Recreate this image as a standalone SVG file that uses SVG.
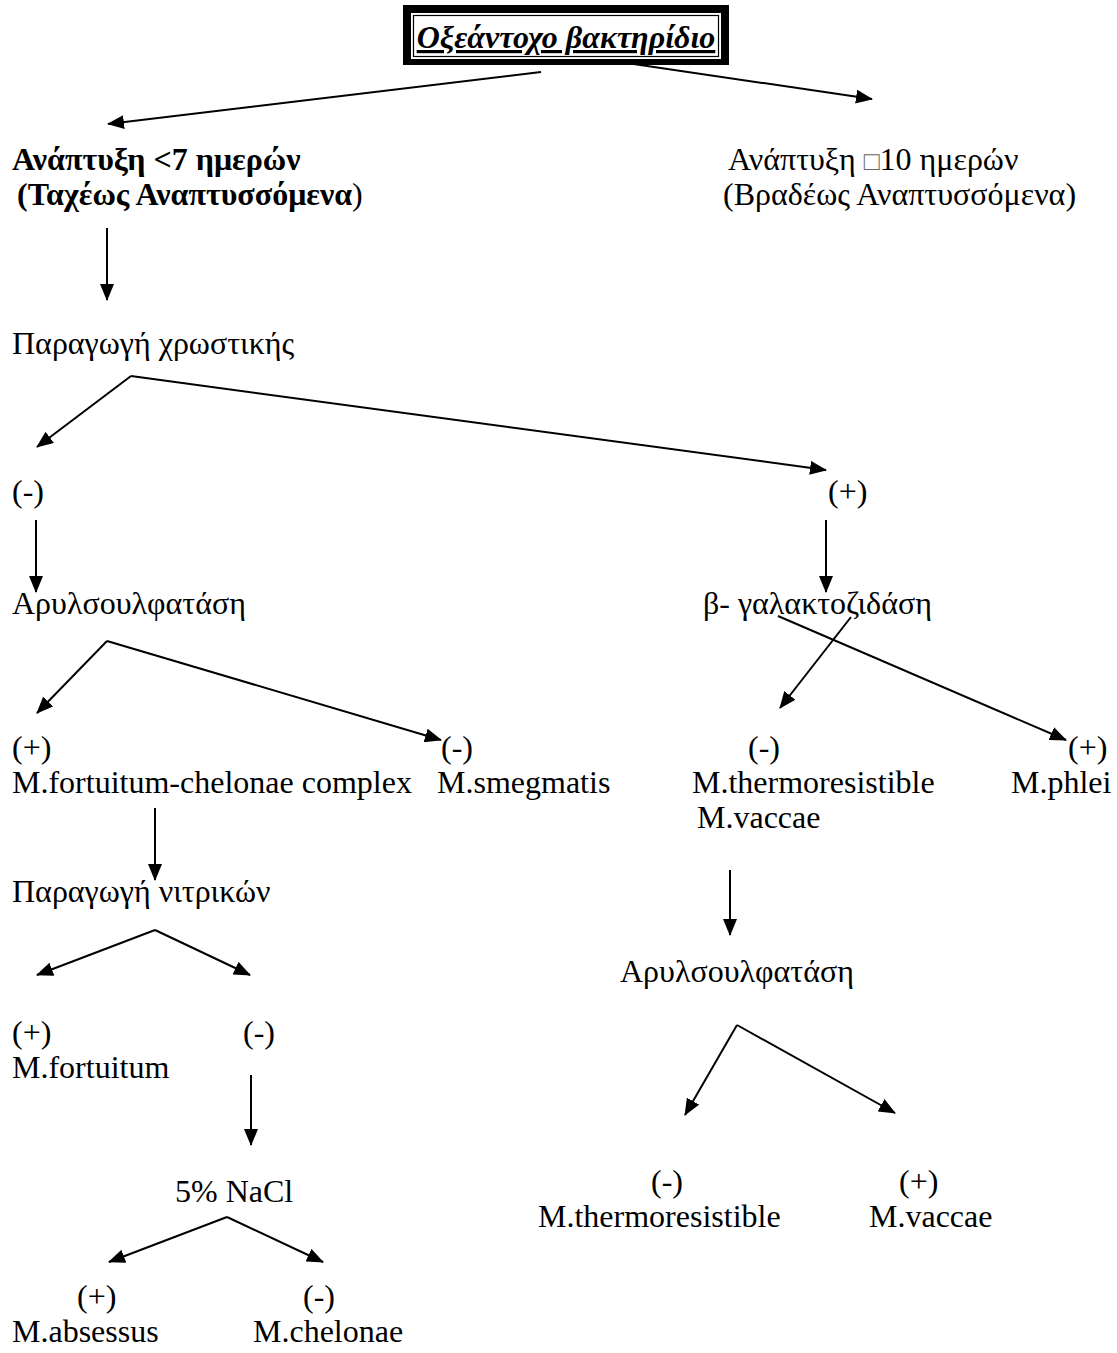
<svg xmlns="http://www.w3.org/2000/svg" width="1117" height="1353" viewBox="0 0 1117 1353">
<defs>
<marker id="ah" markerUnits="userSpaceOnUse" markerWidth="17" markerHeight="14" refX="16" refY="7" orient="auto">
<path d="M0,0 L17,7 L0,14 z" fill="#000"/>
</marker>
<style>
text{font-family:"Liberation Serif","Times New Roman",serif;font-size:32px;fill:#000}
.b{font-weight:bold}
.t{font-weight:bold;font-style:italic;text-decoration:underline}
.sq{fill:#666;font-size:26px}
.c line,.c polyline{stroke:#000;stroke-width:2;fill:none;marker-end:url(#ah)}
</style>
</defs>
<rect width="1117" height="1353" fill="#fff"/>
<g id="title">
<rect x="403" y="5" width="326" height="60" fill="#000"/>
<rect x="411" y="13" width="310" height="46" fill="#fff"/>
<rect x="413.5" y="15.5" width="305" height="41" fill="none" stroke="#000" stroke-width="1.2"/>
<text class="t" x="566" y="48" text-anchor="middle">Οξεάντοχο βακτηρίδιο</text>
</g>
<g id="fast">
<text class="b" x="12" y="170">Ανάπτυξη &lt;7 ημερών</text>
<text x="17" y="205"><tspan class="b">(Ταχέως Αναπτυσσόμενα</tspan>)</text>
</g>
<g id="slow">
<text x="728" y="170">Ανάπτυξη <tspan class="sq">□</tspan>10 ημερών</text>
<text x="723" y="205">(Βραδέως Αναπτυσσόμενα)</text>
</g>
<g id="pigment"><text x="12" y="354">Παραγωγή χρωστικής</text></g>
<g id="pig-neg"><text x="12" y="502">(-)</text></g>
<g id="pig-pos"><text x="828" y="502">(+)</text></g>
<g id="aryl1"><text x="12" y="614">Αρυλσουλφατάση</text></g>
<g id="bgal"><text x="703" y="614">β- γαλακτοζιδάση</text></g>
<g id="fort-chel"><text x="12" y="758">(+)</text><text x="12" y="793">M.fortuitum-chelonae complex</text></g>
<g id="smeg"><text x="441" y="758">(-)</text><text x="437" y="793">M.smegmatis</text></g>
<g id="thermo-vaccae"><text x="748" y="758">(-)</text><text x="692" y="793">M.thermoresistible</text><text x="697" y="828">M.vaccae</text></g>
<g id="phlei"><text x="1068" y="758">(+)</text><text x="1011" y="793">M.phlei</text></g>
<g id="nitrate"><text x="12" y="902">Παραγωγή νιτρικών</text></g>
<g id="aryl2"><text x="620" y="982">Αρυλσουλφατάση</text></g>
<g id="fortuitum"><text x="12" y="1043">(+)</text><text x="12" y="1078">M.fortuitum</text></g>
<g id="nit-neg"><text x="243" y="1043">(-)</text></g>
<g id="nacl"><text x="175" y="1202">5% NaCl</text></g>
<g id="thermo"><text x="651" y="1192">(-)</text><text x="538" y="1227">M.thermoresistible</text></g>
<g id="vaccae"><text x="899" y="1192">(+)</text><text x="869" y="1227">M.vaccae</text></g>
<g id="absessus"><text x="77" y="1307">(+)</text><text x="12" y="1342">M.absessus</text></g>
<g id="chelonae"><text x="303" y="1307">(-)</text><text x="253" y="1342">M.chelonae</text></g>
<g id="connectors" class="c">
<line x1="541" y1="72" x2="108" y2="124"/>
<line x1="620" y1="62" x2="872" y2="99"/>
<line x1="107" y1="228" x2="107" y2="300"/>
<line x1="131" y1="376" x2="37" y2="447"/>
<line x1="131" y1="376" x2="826" y2="470"/>
<line x1="36" y1="520" x2="36" y2="592"/>
<line x1="826" y1="520" x2="826" y2="592"/>
<line x1="107" y1="641" x2="37" y2="713"/>
<line x1="107" y1="641" x2="441" y2="740"/>
<line x1="778" y1="616" x2="1066" y2="740"/>
<line x1="851" y1="617" x2="780" y2="708"/>
<line x1="155" y1="808" x2="155" y2="880"/>
<line x1="155" y1="930" x2="37" y2="975"/>
<line x1="155" y1="930" x2="250" y2="975"/>
<line x1="730" y1="870" x2="730" y2="935"/>
<line x1="737" y1="1025" x2="685" y2="1115"/>
<line x1="737" y1="1025" x2="895" y2="1113"/>
<line x1="251" y1="1075" x2="251" y2="1145"/>
<line x1="227" y1="1217" x2="109" y2="1262"/>
<line x1="227" y1="1217" x2="323" y2="1262"/>
</g>
</svg>
